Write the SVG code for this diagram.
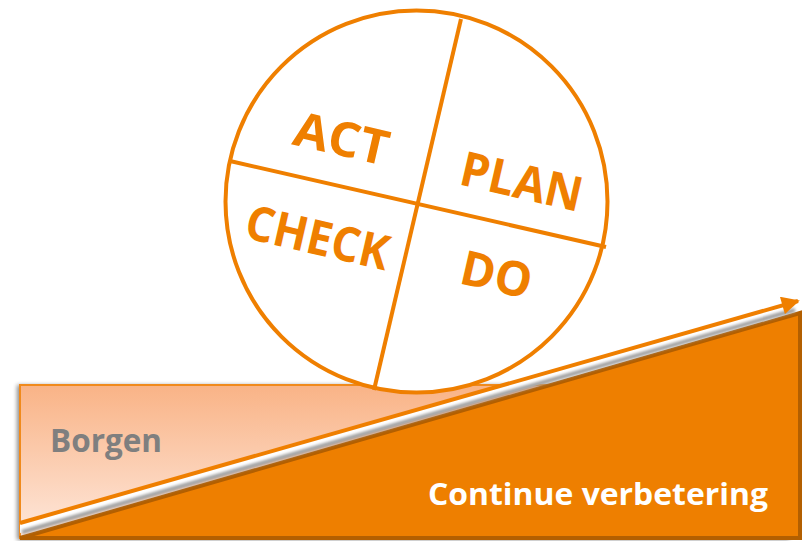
<svg xmlns="http://www.w3.org/2000/svg" width="806" height="541" viewBox="0 0 806 541">
<defs>
<linearGradient id="peach" x1="0" y1="0" x2="0" y2="1">
<stop offset="0" stop-color="#f9b386"/>
<stop offset="1" stop-color="#fee8dc"/>
</linearGradient>
<filter id="sh" x="-10%" y="-10%" width="120%" height="120%">
<feGaussianBlur in="SourceAlpha" stdDeviation="2"/>
<feOffset dx="-2" dy="1"/>
<feComponentTransfer><feFuncA type="linear" slope="0.45"/></feComponentTransfer>
<feMerge><feMergeNode/><feMergeNode in="SourceGraphic"/></feMerge>
</filter>
<filter id="blur" x="-5%" y="-50%" width="110%" height="200%">
<feGaussianBlur stdDeviation="1.6"/>
</filter>
<marker id="ah" viewBox="0 0 10 10" refX="9" refY="5" markerWidth="5" markerHeight="4.5" orient="auto" markerUnits="strokeWidth">
<path d="M0,0 L10,5 L0,10 z" fill="#ef7f00"/>
</marker>
<style>
.lbl{font-family:"Open Sans","Liberation Sans",sans-serif;font-weight:bold;fill:#ef7f00;font-size:48px;}
.seg{stroke:#ef7f00;stroke-width:4;fill:none;}
</style>
</defs>
<g id="borgen">
<rect x="20" y="385" width="770" height="153" fill="url(#peach)" stroke="#f08a1c" stroke-width="2" filter="url(#sh)"/>
<text x="50" y="452" font-family="Open Sans, Liberation Sans, sans-serif" font-weight="bold" font-size="33" fill="#7f7f7f" textLength="112" lengthAdjust="spacingAndGlyphs">Borgen</text>
</g>
<g id="verbetering">
<polygon points="20,538 800,313 800,538" fill="#ee7f00" stroke="#b35f00" stroke-width="4" stroke-linejoin="miter"/>
<text x="428" y="505" font-family="Open Sans, Liberation Sans, sans-serif" font-weight="bold" font-size="31" fill="#ffffff" textLength="340" lengthAdjust="spacingAndGlyphs">Continue verbetering</text>
</g>
<g id="connectors">
<polygon points="20,524 790,304 792,312 20,533" fill="#ffffff"/>
<line x1="22" y1="532" x2="795" y2="310" stroke="#9a9a9a" stroke-width="4" filter="url(#blur)"/>
<line x1="20" y1="523" x2="798" y2="301" stroke="#ef7f00" stroke-width="4" marker-end="url(#ah)"/>
</g>
<g id="pdca">
<circle cx="416.5" cy="201.5" r="191" fill="#ffffff" stroke="#ef7f00" stroke-width="4"/>
<line class="seg" x1="461" y1="19" x2="374" y2="390"/>
<line class="seg" x1="230" y1="161" x2="606" y2="247"/>
<text class="lbl" transform="translate(342,137) rotate(13)" text-anchor="middle" dominant-baseline="central" textLength="96" lengthAdjust="spacingAndGlyphs">ACT</text>
<text class="lbl" transform="translate(522,180) rotate(13)" text-anchor="middle" dominant-baseline="central" textLength="124" lengthAdjust="spacingAndGlyphs">PLAN</text>
<text class="lbl" transform="translate(318,236) rotate(13)" text-anchor="middle" dominant-baseline="central" textLength="146" lengthAdjust="spacingAndGlyphs">CHECK</text>
<text class="lbl" transform="translate(497,273) rotate(13)" text-anchor="middle" dominant-baseline="central" textLength="72" lengthAdjust="spacingAndGlyphs">DO</text>
</g>
</svg>
